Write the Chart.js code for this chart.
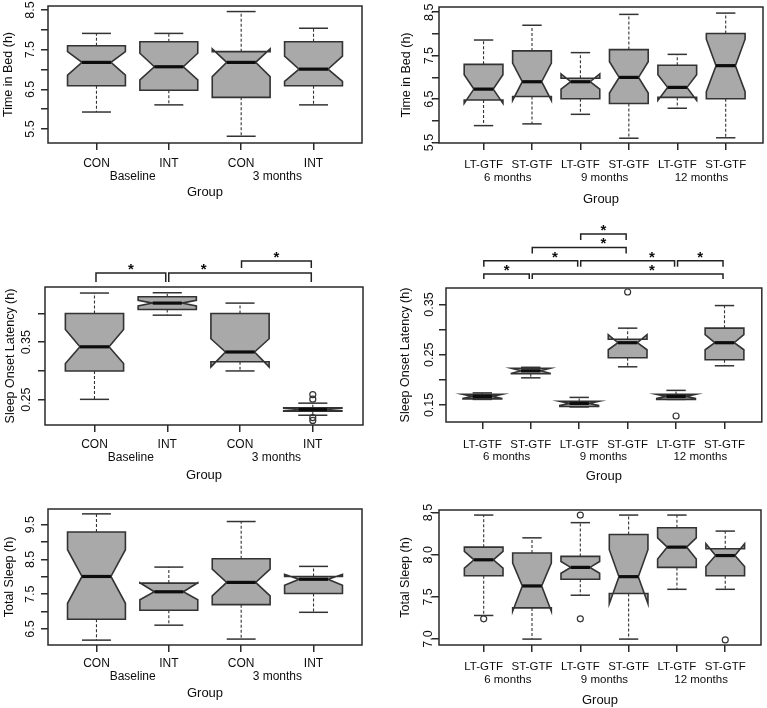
<!DOCTYPE html>
<html>
<head>
<meta charset="utf-8">
<script src="https://cdn.jsdelivr.net/npm/chart.js@4.4.1/dist/chart.umd.min.js"></script>
<style>
  body { margin: 0; background: #fff; }
  #page { position: relative; width: 767px; height: 708px; overflow: hidden; }
  .panel { position: absolute; }
</style>
</head>
<body>
<div id="page">
  <div class="panel" style="left:0;top:0;width:383px;height:240px"><canvas id="bedLeft"></canvas></div>
  <div class="panel" style="left:383px;top:0;width:384px;height:240px"><canvas id="bedRight"></canvas></div>
  <div class="panel" style="left:0;top:210px;width:383px;height:285px"><canvas id="solLeft"></canvas></div>
  <div class="panel" style="left:383px;top:210px;width:384px;height:285px"><canvas id="solRight"></canvas></div>
  <div class="panel" style="left:0;top:480px;width:383px;height:228px"><canvas id="totLeft"></canvas></div>
  <div class="panel" style="left:383px;top:480px;width:384px;height:228px"><canvas id="totRight"></canvas></div>
</div>
<script>
const leftCats = ["CON", "INT", "CON", "INT"];
const leftGroups = ["Baseline", "3 months"];
const rightCats = ["LT-GTF", "ST-GTF", "LT-GTF", "ST-GTF", "LT-GTF", "ST-GTF"];
const rightGroups = ["6 months", "9 months", "12 months"];

// each box: [lower whisker, Q1, notch low, median, notch high, Q3, upper whisker]
const bedLeftBoxes = [
  [5.93, 6.59, 6.86, 7.18, 7.45, 7.60, 7.91],
  [6.11, 6.48, 6.74, 7.07, 7.41, 7.70, 7.91],
  [5.32, 6.30, 6.82, 7.18, 7.52, 7.45, 8.46],
  [6.11, 6.59, 6.70, 7.01, 7.34, 7.70, 8.04],
];
const bedRightBoxes = [
  [5.89, 6.48, 6.40, 6.73, 7.06, 7.30, 7.86],
  [5.93, 6.56, 6.47, 6.90, 7.33, 7.61, 8.20],
  [6.15, 6.51, 6.73, 6.90, 7.08, 6.98, 7.57],
  [5.60, 6.40, 6.64, 7.00, 7.36, 7.64, 8.45],
  [6.29, 6.54, 6.47, 6.77, 7.06, 7.28, 7.53],
  [5.61, 6.51, 6.67, 7.27, 7.88, 8.01, 8.48],
];
const solLeftBoxes = [
  [0.2506, 0.300, 0.313, 0.342, 0.372, 0.400, 0.4355],
  [0.397, 0.407, 0.413, 0.418, 0.423, 0.429, 0.436],
  [0.300, 0.316, 0.307, 0.333, 0.356, 0.400, 0.418],
  [0.223, 0.230, 0.231, 0.233, 0.235, 0.236, 0.244],
];
const solRightBoxes = [
  [0.161, 0.162, 0.163, 0.167, 0.171, 0.171, 0.174],
  [0.204, 0.212, 0.213, 0.218, 0.223, 0.223, 0.225],
  [0.146, 0.147, 0.149, 0.153, 0.157, 0.157, 0.165],
  [0.226, 0.244, 0.260, 0.274, 0.290, 0.281, 0.303],
  [0.161, 0.161, 0.163, 0.167, 0.171, 0.171, 0.179],
  [0.228, 0.240, 0.260, 0.274, 0.290, 0.303, 0.348],
];
const totLeftBoxes = [
  [6.18, 6.78, 7.24, 8.01, 8.78, 9.29, 9.81],
  [6.61, 7.04, 7.34, 7.57, 7.83, 7.82, 8.28],
  [6.21, 7.20, 7.45, 7.84, 8.22, 8.52, 9.59],
  [6.98, 7.52, 7.76, 7.93, 8.07, 8.01, 8.30],
];
const totRightBoxes = [
  [7.28, 7.75, 7.84, 7.94, 8.04, 8.09, 8.47],
  [7.00, 7.37, 7.33, 7.63, 7.90, 8.02, 8.20],
  [7.52, 7.71, 7.78, 7.85, 7.92, 7.98, 8.38],
  [7.00, 7.54, 7.42, 7.74, 8.06, 8.24, 8.47],
  [7.59, 7.85, 7.95, 8.09, 8.20, 8.32, 8.47],
  [7.59, 7.75, 7.86, 7.99, 8.13, 8.07, 8.28],
];

// outliers: [box index, value]
const solLeftOutliers = [[3, 0.259], [3, 0.251], [3, 0.219], [3, 0.214]];
const solRightOutliers = [[3, 0.375], [4, 0.128]];
const totRightOutliers = [[0, 7.24], [2, 8.47], [2, 7.24], [5, 6.99]];

const bedTicks = [5.5, 6, 6.5, 7, 7.5, 8, 8.5];
const bedTickLabels = ["5.5", "", "6.5", "", "7.5", "", "8.5"];
const solLeftTicks = [0.25, 0.30, 0.35, 0.40];
const solLeftTickLabels = ["0.25", "", "0.35", ""];
const solRightTicks = [0.15, 0.20, 0.25, 0.30, 0.35];
const solRightTickLabels = ["0.15", "", "0.25", "", "0.35"];
const totLeftTicks = [6.5, 7, 7.5, 8, 8.5, 9, 9.5];
const totLeftTickLabels = ["6.5", "", "7.5", "", "8.5", "", "9.5"];
const totRightTicks = [7.0, 7.5, 8.0, 8.5];
const totRightTickLabels = ["7.0", "7.5", "8.0", "8.5"];

// significance brackets: [from box, to box, level]; stars: [x position, level]
const solLeftBrackets = [[0, 1, 1], [1, 3, 1], [2, 3, 2]];
const solLeftStars = [[0.5, 1], [1.5, 1], [2.5, 2]];
const solRightBrackets = [[0, 1, 1], [1, 5, 1], [0, 2, 2], [2, 4, 2], [4, 5, 2], [1, 3, 3], [2, 3, 4]];
const solRightStars = [[0.5, 1], [3.5, 1], [1.5, 2], [3.5, 2], [4.5, 2], [2.5, 3], [2.5, 4]];

const FONT = '"Liberation Sans", Arial, Helvetica, sans-serif';
const INK = "#0d0d0d";

function text(ctx, str, cx, cy, size, rotate, bold) {
  ctx.save();
  ctx.font = (bold ? "bold " : "") + size + "px " + FONT;
  ctx.fillStyle = INK;
  ctx.textAlign = "center";
  ctx.textBaseline = "alphabetic";
  ctx.translate(cx, cy);
  if (rotate) ctx.rotate(-Math.PI / 2);
  ctx.fillText(str, 0, size * 0.36);
  ctx.restore();
}

function seg(ctx, x1, y1, x2, y2) {
  ctx.beginPath();
  ctx.moveTo(x1, y1);
  ctx.lineTo(x2, y2);
  ctx.stroke();
}

function boxPlugin(p) {
  return {
    id: "notchedBoxes",
    beforeDatasetsDraw(chart) {
      const { ctx } = chart;
      const xs = chart.scales.x, ys = chart.scales.y;
      const py = (v) => ys.getPixelForValue(v);
      ctx.save();
      p.boxes.forEach((b, i) => {
        const [lo, q1, nlo, med, nhi, q3, hi] = b;
        const cx = xs.getPixelForValue(i);
        const w = xs.getPixelForValue(i + 0.4) - cx;
        ctx.strokeStyle = "#333";
        ctx.lineWidth = 1.1;
        ctx.setLineDash([3, 2]);
        seg(ctx, cx, py(q3), cx, py(hi));
        seg(ctx, cx, py(q1), cx, py(lo));
        ctx.setLineDash([]);
        ctx.lineWidth = 1.5;
        seg(ctx, cx - w / 2, py(hi), cx + w / 2, py(hi));
        seg(ctx, cx - w / 2, py(lo), cx + w / 2, py(lo));
        // notched outline, same point order as R's bxp
        const fx = [-1, 1, 1, 0.5, 1, 1, -1, -1, -0.5, -1];
        const fy = [q1, q1, nlo, med, nhi, q3, q3, nhi, med, nlo];
        ctx.beginPath();
        fx.forEach((f, k) => {
          if (k === 0) ctx.moveTo(cx + f * w, py(fy[k]));
          else ctx.lineTo(cx + f * w, py(fy[k]));
        });
        ctx.closePath();
        ctx.fillStyle = "#a9a9a9";
        ctx.fill();
        ctx.lineJoin = "miter";
        ctx.lineWidth = 1.6;
        ctx.stroke();
        ctx.lineWidth = 3.2;
        ctx.strokeStyle = "#0d0d0d";
        seg(ctx, cx - w / 2, py(med), cx + w / 2, py(med));
      });
      ctx.restore();
    },
    afterDraw(chart) {
      const { ctx, chartArea: a } = chart;
      const xs = chart.scales.x, ys = chart.scales.y;
      ctx.save();
      ctx.strokeStyle = "#2a2a2a";
      ctx.lineWidth = 1.5;
      ctx.strokeRect(a.left, a.top, a.right - a.left, a.bottom - a.top);

      p.ticks.forEach((v, k) => {
        if (p.tickLabels[k]) text(ctx, p.tickLabels[k], a.left - p.off.tick, ys.getPixelForValue(v), 12.5, true);
      });
      text(ctx, p.yTitle, a.left - p.off.yTitle, (a.top + a.bottom) / 2, 12.5, true);
      p.cats.forEach((c, i) => text(ctx, c, xs.getPixelForValue(i), a.bottom + p.off.cat, p.catSize, false));
      p.groups.forEach((g, k) => text(ctx, g, xs.getPixelForValue(2 * k + 0.5), a.bottom + p.off.group, p.catSize, false));
      text(ctx, "Group", (a.left + a.right) / 2, a.bottom + p.off.title, 13, false);

      if (p.brackets) {
        const lineY = (lvl) => a.top - p.br.base - p.br.step * (lvl - 1);
        ctx.lineWidth = 1.5;
        ctx.strokeStyle = "#222";
        p.brackets.forEach(([f, t, lvl]) => {
          const x1 = xs.getPixelForValue(f) + 1.5, x2 = xs.getPixelForValue(t) - 1.5;
          const y0 = lineY(lvl), leg = lvl === 1 ? p.br.leg1 : p.br.leg;
          ctx.beginPath();
          ctx.moveTo(x1, y0 + leg);
          ctx.lineTo(x1, y0);
          ctx.lineTo(x2, y0);
          ctx.lineTo(x2, y0 + leg);
          ctx.stroke();
        });
        p.stars.forEach(([sx, lvl]) => {
          ctx.save();
          ctx.font = "bold 15px " + FONT;
          ctx.fillStyle = "#0d0d0d";
          ctx.textAlign = "center";
          ctx.fillText("*", xs.getPixelForValue(sx), lineY(lvl) + 1);
          ctx.restore();
        });
      }
      ctx.restore();
    },
  };
}

function makePanel(id, p) {
  const axisGrid = { drawOnChartArea: false, drawTicks: true, tickLength: 7, color: "#2a2a2a", lineWidth: 1.5 };
  new Chart(document.getElementById(id), {
    type: "scatter",
    data: {
      datasets: [{
        data: (p.outliers || []).map(([i, v]) => ({ x: i, y: v })),
        pointStyle: "circle",
        pointRadius: 3,
        pointBorderWidth: 1.2,
        pointBorderColor: "#333",
        pointBackgroundColor: "rgba(0,0,0,0)",
      }],
    },
    options: {
      responsive: true,
      maintainAspectRatio: false,
      animation: false,
      events: [],
      layout: { padding: p.pad },
      plugins: { legend: { display: false }, tooltip: { enabled: false } },
      scales: {
        x: {
          type: "linear",
          min: p.xMin,
          max: p.xMax,
          afterBuildTicks: (s) => { s.ticks = p.cats.map((c, i) => ({ value: i })); },
          ticks: { display: false, autoSkip: false },
          grid: axisGrid,
          border: { display: false },
        },
        y: {
          type: "linear",
          min: p.yMin,
          max: p.yMax,
          afterBuildTicks: (s) => { s.ticks = p.ticks.map((v) => ({ value: v })); },
          ticks: { display: false, autoSkip: false },
          grid: axisGrid,
          border: { display: false },
        },
      },
    },
    plugins: [boxPlugin(p)],
  });
}

makePanel("bedLeft", {
  cats: leftCats, groups: leftGroups, boxes: bedLeftBoxes,
  ticks: bedTicks, tickLabels: bedTickLabels, yTitle: "Time in Bed (h)",
  yMin: 5.15, yMax: 8.6, xMin: -0.67, xMax: 3.67, catSize: 12,
  pad: { left: 41, right: 21, top: 6, bottom: 90 },
  off: { yTitle: 41, tick: 19, cat: 20, group: 33, title: 48 },
});
makePanel("bedRight", {
  cats: rightCats, groups: rightGroups, boxes: bedRightBoxes,
  ticks: bedTicks, tickLabels: bedTickLabels, yTitle: "Time in Bed (h)",
  yMin: 5.49, yMax: 8.62, xMin: -0.92, xMax: 5.77, catSize: 11.5,
  pad: { left: 49, right: 4, top: 7, bottom: 90 },
  off: { yTitle: 34, tick: 11, cat: 21, group: 34, title: 55 },
});
makePanel("solLeft", {
  cats: leftCats, groups: leftGroups, boxes: solLeftBoxes, outliers: solLeftOutliers,
  ticks: solLeftTicks, tickLabels: solLeftTickLabels, yTitle: "Sleep Onset Latency (h)",
  yMin: 0.206, yMax: 0.446, xMin: -0.68, xMax: 3.69, catSize: 12,
  pad: { left: 38, right: 20, top: 77, bottom: 63 },
  off: { yTitle: 36, tick: 20, cat: 19, group: 32, title: 49 },
  brackets: solLeftBrackets, stars: solLeftStars,
  br: { base: 14, step: 12, leg1: 9, leg: 7 },
});
makePanel("solRight", {
  cats: rightCats, groups: rightGroups, boxes: solRightBoxes, outliers: solRightOutliers,
  ticks: solRightTicks, tickLabels: solRightTickLabels, yTitle: "Sleep Onset Latency (h)",
  yMin: 0.116, yMax: 0.383, xMin: -0.75, xMax: 5.77, catSize: 11.5,
  pad: { left: 56, right: 4, top: 78, bottom: 66 },
  off: { yTitle: 42, tick: 18, cat: 22, group: 34, title: 53 },
  brackets: solRightBrackets, stars: solRightStars,
  br: { base: 14, step: 13.3, leg1: 5, leg: 6 },
});
makePanel("totLeft", {
  cats: leftCats, groups: leftGroups, boxes: totLeftBoxes,
  ticks: totLeftTicks, tickLabels: totLeftTickLabels, yTitle: "Total Sleep (h)",
  yMin: 6.04, yMax: 9.95, xMin: -0.67, xMax: 3.67, catSize: 12,
  pad: { left: 41, right: 21, top: 29, bottom: 56 },
  off: { yTitle: 40, tick: 19, cat: 18, group: 31, title: 47 },
});
makePanel("totRight", {
  cats: rightCats, groups: rightGroups, boxes: totRightBoxes, outliers: totRightOutliers,
  ticks: totRightTicks, tickLabels: totRightTickLabels, yTitle: "Total Sleep (h)",
  yMin: 6.93, yMax: 8.53, xMin: -0.925, xMax: 5.74, catSize: 11.5,
  pad: { left: 49, right: 6, top: 30, bottom: 56 },
  off: { yTitle: 35, tick: 12, cat: 21, group: 34, title: 54 },
});
</script>
</body>
</html>
